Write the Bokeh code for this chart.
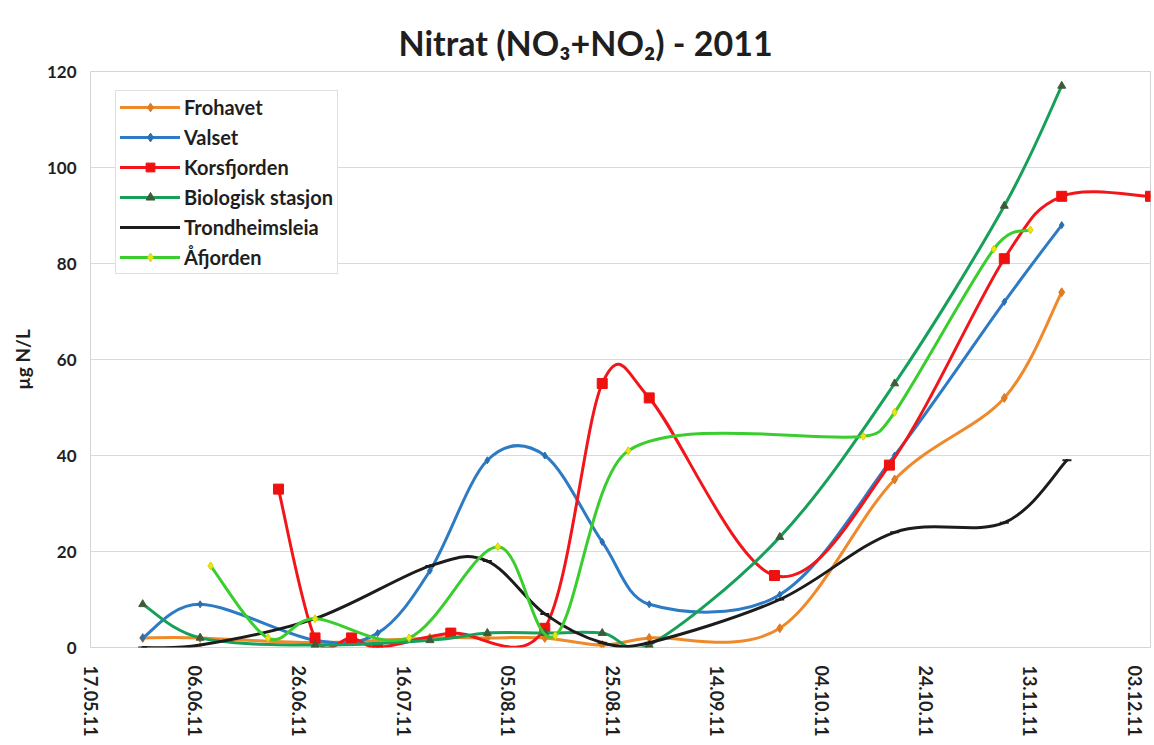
import datetime as dt
from bokeh.plotting import figure
from bokeh.models import (Range1d, FixedTicker, Legend, LegendItem, ColumnDataSource,
                          DatetimeTickFormatter, Title)
from bokeh.embed import file_html
from bokeh.resources import INLINE

# ---------------- data ----------------
series_names = ["Frohavet", "Valset", "Korsfjorden", "Biologisk stasjon", "Trondheimsleia", "Åfjorden"]

frohavet_dates = ["2011-05-27", "2011-06-07", "2011-06-29", "2011-07-21", "2011-08-01", "2011-08-12",
                  "2011-08-23", "2011-09-01", "2011-09-26", "2011-10-18", "2011-11-08", "2011-11-19"]
frohavet_vals = [2, 2, 1, 2, 2, 2, 0.5, 2, 4, 35, 52, 74]

valset_dates = ["2011-05-27", "2011-06-07", "2011-06-29", "2011-07-11", "2011-07-21", "2011-08-01",
                "2011-08-12", "2011-08-23", "2011-09-01", "2011-09-26", "2011-10-18", "2011-11-08",
                "2011-11-19"]
valset_vals = [2, 9, 1.5, 3, 16, 39, 40, 22, 9, 11, 40, 72, 88]

korsfjorden_dates = ["2011-06-22", "2011-06-29", "2011-07-06", "2011-07-11", "2011-07-25", "2011-08-12",
                     "2011-08-23", "2011-09-01", "2011-09-25", "2011-10-17", "2011-11-08", "2011-11-19",
                     "2011-12-06"]
korsfjorden_vals = [33, 2, 2, 0, 3, 4, 55, 52, 15, 38, 81, 94, 94]

biologisk_dates = ["2011-05-27", "2011-06-07", "2011-06-29", "2011-07-21", "2011-08-01", "2011-08-12",
                   "2011-08-23", "2011-09-01", "2011-09-26", "2011-10-18", "2011-11-08", "2011-11-19"]
biologisk_vals = [9, 2, 0.5, 1.5, 3, 3, 3, 0.5, 23, 55, 92, 117]

trondheim_dates = ["2011-05-27", "2011-06-07", "2011-06-29", "2011-07-21", "2011-08-01", "2011-08-12",
                   "2011-08-23", "2011-09-01", "2011-09-26", "2011-10-18", "2011-11-08", "2011-11-20"]
trondheim_vals = [0, 0.5, 6, 17, 18, 7, 1, 1, 10, 24, 26, 39]

afjorden_dates = ["2011-06-09", "2011-06-20", "2011-06-29", "2011-07-17", "2011-08-03", "2011-08-14",
                  "2011-08-28", "2011-10-12", "2011-10-18", "2011-11-06", "2011-11-13"]
afjorden_vals = [17, 2, 6, 2, 21, 2.5, 41, 44, 49, 83, 87]

tick_labels = ["17.05.11", "06.06.11", "26.06.11", "16.07.11", "05.08.11", "25.08.11",
               "14.09.11", "04.10.11", "24.10.11", "13.11.11", "03.12.11"]
y_ticks = [0, 20, 40, 60, 80, 100, 120]
x_start, x_end = "2011-05-17", "2011-12-06"

# ---------------- helpers ----------------
EPOCH = dt.datetime(1970, 1, 1)


def ms(s, fmt="%Y-%m-%d"):
    return (dt.datetime.strptime(s, fmt) - EPOCH).total_seconds() * 1000.0


def _clamp(dx, dy, limit):
    if abs(dx) > limit and dx != 0:
        f = limit / abs(dx)
        return dx * f, dy * f
    return dx, dy


def bezier_source(dates, vals, t=1.0 / 6.0, k=0.5):
    xs = [ms(d) for d in dates]
    ys = list(vals)
    n = len(xs)
    d = dict(x0=[], y0=[], x1=[], y1=[], cx0=[], cy0=[], cx1=[], cy1=[])
    for i in range(n - 1):
        pm = max(i - 1, 0)
        pp = min(i + 2, n - 1)
        seg = xs[i + 1] - xs[i]
        dx0, dy0 = _clamp((xs[i + 1] - xs[pm]) * t, (ys[i + 1] - ys[pm]) * t, seg * k)
        dx1, dy1 = _clamp((xs[pp] - xs[i]) * t, (ys[pp] - ys[i]) * t, seg * k)
        d["x0"].append(xs[i]); d["y0"].append(ys[i])
        d["x1"].append(xs[i + 1]); d["y1"].append(ys[i + 1])
        d["cx0"].append(xs[i] + dx0); d["cy0"].append(ys[i] + dy0)
        d["cx1"].append(xs[i + 1] - dx1); d["cy1"].append(ys[i + 1] - dy1)
    return ColumnDataSource(d), ColumnDataSource(dict(x=xs, y=ys))


FONT = "Lato"
TXT = "#1f1f1f"

p = figure(width=1152, height=743, x_axis_type="datetime",
           x_range=Range1d(ms(x_start), ms(x_end)), y_range=Range1d(0, 120),
           output_backend="svg", toolbar_location=None,
           min_border_left=90, min_border_right=2, min_border_top=71, min_border_bottom=96)

p.title = Title(text="Nitrat (NO₃+NO₂) - 2011", align="left", offset=308, text_font=FONT,
                text_font_size="34px", text_font_style="bold", text_color=TXT, standoff=17)

p.background_fill_color = "white"
p.border_fill_color = "white"
p.outline_line_color = "#D4D4D4"
p.outline_line_width = 1

p.xgrid.grid_line_color = None
p.ygrid.grid_line_color = "#DADADA"
p.ygrid.grid_line_width = 1

p.yaxis.ticker = FixedTicker(ticks=y_ticks)
p.xaxis.ticker = FixedTicker(ticks=[ms(s, "%d.%m.%y") for s in tick_labels])
fmt = "%d.%m.%y"
p.xaxis.formatter = DatetimeTickFormatter(milliseconds=fmt, seconds=fmt, minsec=fmt, minutes=fmt,
                                          hourmin=fmt, hours=fmt, days=fmt, months=fmt, years=fmt)
p.xaxis.major_label_orientation = "vertical"

for ax in (p.xaxis[0], p.yaxis[0]):
    ax.axis_line_color = None
    ax.major_tick_line_color = None
    ax.minor_tick_line_color = None
    ax.major_label_text_font = FONT
    ax.major_label_text_font_style = "bold"
    ax.major_label_text_color = TXT

p.xaxis.major_label_text_font_size = "18px"
p.xaxis.major_label_standoff = 12
p.yaxis.major_label_text_font_size = "17px"
p.yaxis.major_label_standoff = 8
p.yaxis.axis_label = "µg N/L"
p.yaxis.axis_label_text_font = FONT
p.yaxis.axis_label_text_font_style = "bold"
p.yaxis.axis_label_text_font_size = "19px"
p.yaxis.axis_label_text_color = TXT
p.yaxis.axis_label_standoff = 10

styles = [
    dict(dates=frohavet_dates, vals=frohavet_vals, color="#EE8A2B", marker="diamond", size=9,
         mfill="#E07B20", mline="#E07B20"),
    dict(dates=valset_dates, vals=valset_vals, color="#2C7BC4", marker="diamond", size=7,
         mfill="#2A6FB0", mline="#2A6FB0"),
    dict(dates=korsfjorden_dates, vals=korsfjorden_vals, color="#F2161B", marker="square", size=10,
         mfill="#F01010", mline="#F01010"),
    dict(dates=biologisk_dates, vals=biologisk_vals, color="#16A05A", marker="triangle", size=8,
         mfill="#3F5A3A", mline="#3F5A3A"),
    dict(dates=trondheim_dates, vals=trondheim_vals, color="#1C1C1C", marker="dash", size=9,
         mfill="#1C1C1C", mline="#1C1C1C"),
    dict(dates=afjorden_dates, vals=afjorden_vals, color="#3ACD2E", marker="diamond", size=8,
         mfill="#E6E619", mline="#D4D400"),
]

items = []
for name, st in zip(series_names, styles):
    bsrc, psrc = bezier_source(st["dates"], st["vals"])
    r_line = p.bezier(x0="x0", y0="y0", x1="x1", y1="y1", cx0="cx0", cy0="cy0", cx1="cx1", cy1="cy1",
                      source=bsrc, line_color=st["color"], line_width=3, line_cap="round")
    r_pts = p.scatter(x="x", y="y", source=psrc, marker=st["marker"], size=st["size"],
                      fill_color=st["mfill"], line_color=st["mline"],
                      line_width=2 if st["marker"] == "dash" else 1)
    items.append(LegendItem(label=name, renderers=[r_line, r_pts]))

legend = Legend(items=items, location=(25, 373), padding=4, spacing=6,
                label_height=22, glyph_height=22, glyph_width=60, label_standoff=4,
                label_text_font=FONT, label_text_font_style="bold", label_text_font_size="20px",
                label_text_color=TXT, border_line_color="#BFBFBF", border_line_width=1,
                background_fill_color="white", background_fill_alpha=1.0)
p.add_layout(legend, "center")

open("out.html", "w").write(file_html(p, INLINE))
